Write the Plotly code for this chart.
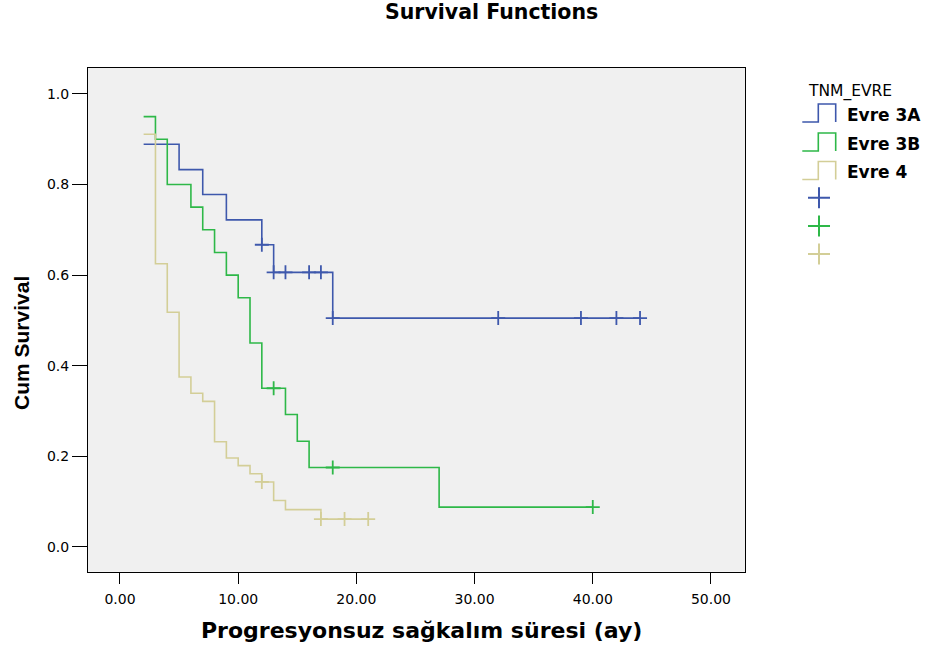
import plotly.graph_objects as go

# Kaplan-Meier estimates: event times (months) and survival after each event
groups = ["Evre 3A", "Evre 3B", "Evre 4"]
colors = ["#3E58AC", "#2EB848", "#D3CE97"]

evre3a_time = [2, 5, 7, 9, 12, 13, 18]
evre3a_surv = [0.889, 0.833, 0.778, 0.722, 0.667, 0.606, 0.505]
evre3a_censored = [12, 13, 14, 16, 17, 18, 32, 39, 42, 44]

evre3b_time = [2, 3, 4, 6, 7, 8, 9, 10, 11, 12, 14, 15, 16, 27]
evre3b_surv = [0.950, 0.900, 0.800, 0.750, 0.700, 0.650, 0.600, 0.550,
               0.450, 0.350, 0.292, 0.233, 0.175, 0.0875]
evre3b_censored = [13, 18, 40]

evre4_time = [2, 3, 4, 5, 6, 7, 8, 9, 10, 11, 12, 13, 14, 17]
evre4_surv = [0.911, 0.625, 0.518, 0.375, 0.339, 0.321, 0.232, 0.196,
              0.179, 0.161, 0.143, 0.102, 0.082, 0.061]
evre4_censored = [12, 17, 19, 21]

x_ticks = [0, 10, 20, 30, 40, 50]
y_ticks = [0.0, 0.2, 0.4, 0.6, 0.8, 1.0]

series = [
    (evre3a_time, evre3a_surv, evre3a_censored),
    (evre3b_time, evre3b_surv, evre3b_censored),
    (evre4_time, evre4_surv, evre4_censored),
]

W, H = 930, 650
# plot frame in pixels
PL, PR, PT, PB = 88, 745, 68, 571.7


def px(x):
    return x / W


def py(y):
    return 1 - y / H


def surv_at(times, surv, t):
    """Step-function lookup of the estimate at time t."""
    val = surv[0]
    for ti, si in zip(times, surv):
        if ti <= t:
            val = si
    return val


fig = go.Figure()

for name, color, (times, surv, cens) in zip(groups, colors, series):
    # step curve runs on to the last censored observation
    xs = list(times) + [max(cens[-1], times[-1])]
    ys = list(surv) + [surv[-1]]
    fig.add_trace(go.Scatter(
        x=xs, y=ys, mode="lines", name=name, line_shape="hv",
        line=dict(color=color, width=1.6), showlegend=False,
    ))
    fig.add_trace(go.Scatter(
        x=cens, y=[surv_at(times, surv, c) for c in cens], mode="markers",
        name=name + " censored", showlegend=False,
        marker=dict(symbol="cross-thin", size=10, color=color,
                    line=dict(color=color, width=1.8)),
    ))

tick_font = dict(family="DejaVu Sans", size=14, color="#000000")

fig.update_layout(
    width=W, height=H,
    margin=dict(l=0, r=0, t=0, b=0),
    paper_bgcolor="#FFFFFF",
    plot_bgcolor="#F0F0F0",
    xaxis=dict(
        domain=[px(PL), px(PR)],
        range=[-2.707, 52.88],
        tickvals=x_ticks,
        ticktext=[f"{v:.2f}" for v in x_ticks],
        ticks="outside", ticklen=11, tickwidth=1, tickcolor="#000000",
        ticklabelstandoff=3,
        showline=True, mirror=True, linecolor="#000000", linewidth=1,
        showgrid=False, zeroline=False, tickfont=tick_font,
    ),
    yaxis=dict(
        domain=[py(PB), py(PT)],
        range=[-0.0552, 1.0574],
        tickvals=y_ticks,
        ticktext=[f"{v:.1f}" for v in y_ticks],
        ticks="outside", ticklen=15, tickwidth=1, tickcolor="#000000",
        showline=True, mirror=True, linecolor="#000000", linewidth=1,
        showgrid=False, zeroline=False, tickfont=tick_font,
    ),
    showlegend=False,
)

annotations = [
    dict(text="Survival Functions", x=px(491.5), y=py(12),
         font=dict(family="DejaVu Sans", size=20.5, color="#000000", weight="bold")),
    dict(text="Progresyonsuz sağkalım süresi (ay)", x=px(421.5), y=py(630),
         font=dict(family="DejaVu Sans", size=22, color="#000000", weight="bold")),
    dict(text="Cum Survival", x=px(21), y=py(343), textangle=-90,
         font=dict(family="Liberation Sans", size=21, color="#000000", weight="bold")),
    dict(text="TNM_EVRE", x=px(849.5), y=py(91),
         font=dict(family="DejaVu Sans", size=15.5, color="#000000")),
]

shapes = []
legend_y = [115, 144, 172.5]
for name, color, yc in zip(groups, colors, legend_y):
    yb, yt = yc + 7, yc - 11
    path = (f"M {px(802.3)},{py(yb)} L {px(818.3)},{py(yb)} L {px(818.3)},{py(yt)} "
            f"L {px(835.7)},{py(yt)} L {px(835.7)},{py(yb)}")
    shapes.append(dict(type="path", xref="paper", yref="paper", path=path,
                       line=dict(color=color, width=1.6)))
    annotations.append(dict(text=name, x=px(845), y=py(yc), xanchor="left",
                            font=dict(family="DejaVu Sans", size=17,
                                      color="#000000", weight="bold")))

plus_y = [197.7, 226, 254]
for color, yc in zip(colors, plus_y):
    path = (f"M {px(808)},{py(yc)} L {px(830)},{py(yc)} "
            f"M {px(819)},{py(yc - 10.5)} L {px(819)},{py(yc + 10.5)}")
    shapes.append(dict(type="path", xref="paper", yref="paper", path=path,
                       line=dict(color=color, width=2)))

for a in annotations:
    a.setdefault("xanchor", "center")
    a.update(xref="paper", yref="paper", yanchor="middle", showarrow=False)

fig.update_layout(annotations=annotations, shapes=shapes)

fig.write_html("out.html", config={"displayModeBar": False})
